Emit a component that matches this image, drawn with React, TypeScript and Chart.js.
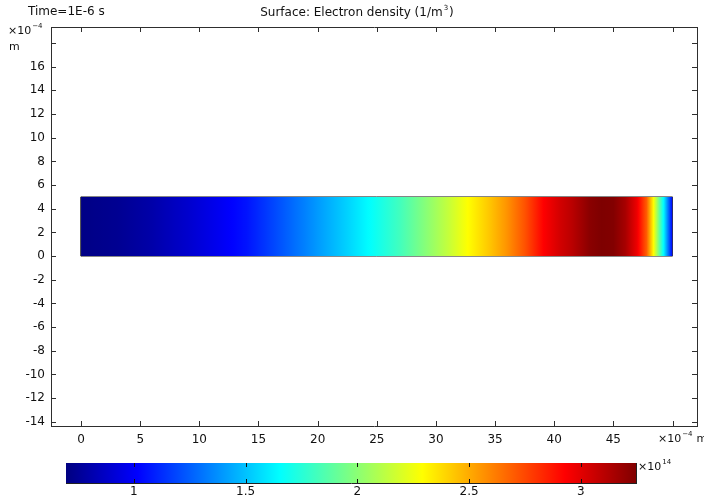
import React, { useEffect, useRef } from 'react';
import { Chart, registerables } from 'chart.js';

Chart.register(...registerables);

const FONT = "'DejaVu Sans', sans-serif";
const TEXT = '#111111';
const AXIS = '#2e2e2e';

// ---- texts ----
const timeLabel = 'Time=1E-6 s';
const titleBase = 'Surface: Electron density (1/m';
const titleSup = '3';
const titleEnd = ')';
const lengthUnitBase = '×10';
const lengthUnitSup = '−4';
const lengthUnit = 'm';
const densityUnitBase = '×10';
const densityUnitSup = '14';

// ---- axes ----
const xTicks = [0, 5, 10, 15, 20, 25, 30, 35, 40, 45, 50];
const yTicks = [-14, -12, -10, -8, -6, -4, -2, 0, 2, 4, 6, 8, 10, 12, 14, 16, 18];
const xRange = [-2.54, 52.07];
const yRange = [-14.35, 19.35];

// ---- geometry (×1e-4 m) ----
const rectX = [0, 50, 50, 0, 0];
const rectY = [0, 0, 5, 5, 0];
const rectTop = 5;

// ---- electron density along x (×1e14 1/m^3) ----
const positionX = [0, 3, 6, 9, 12, 14, 17, 20, 22.5, 24.5, 27, 29, 31, 32.7, 34.5, 36, 37.5, 39.1, 40.5, 41.5, 43, 44, 45, 46, 47, 47.8, 48.4, 48.9, 49.3, 49.7, 50];
const electronDensity = [0.71, 0.74, 0.8, 0.89, 0.99, 1.06, 1.23, 1.4, 1.54, 1.66, 1.82, 1.98, 2.14, 2.29, 2.43, 2.56, 2.72, 2.93, 3.04, 3.1, 3.22, 3.25, 3.24, 3.15, 2.97, 2.7, 2.29, 1.9, 1.6, 1.25, 1.0];

// ---- colour bar ----
const colorTicks = [1, 1.5, 2, 2.5, 3];
const colorRange = [0.696, 3.247];

function jet(t: number): string {
  const c = (v: number) => Math.max(0, Math.min(1, v));
  const r = c(1.5 - Math.abs(4 * t - 3));
  const g = c(1.5 - Math.abs(4 * t - 2));
  const b = c(1.5 - Math.abs(4 * t - 1));
  return `rgb(${Math.round(r * 255)},${Math.round(g * 255)},${Math.round(b * 255)})`;
}
const norm = (v: number) => (v - colorRange[0]) / (colorRange[1] - colorRange[0]);

function drawSup(ctx: CanvasRenderingContext2D, x: number, y: number, base: string, sup: string, size: number, supSize: number, measureOnly = false): number {
  ctx.font = `${size}px ${FONT}`;
  const w = ctx.measureText(base).width;
  if (!measureOnly) {
    ctx.textBaseline = 'middle';
    ctx.textAlign = 'left';
    ctx.fillText(base, x, y);
  }
  ctx.font = `${supSize}px ${FONT}`;
  const w2 = ctx.measureText(sup).width;
  if (!measureOnly) ctx.fillText(sup, x + w + 1, y - size * 0.42);
  return w + 1 + w2;
}

// inward tick marks drawn through each scale
function inwardTicks(len: number, color: string) {
  return {
    id: 'inwardTicks',
    afterDatasetsDraw(chart: any) {
      const ctx: CanvasRenderingContext2D = chart.ctx;
      const a = chart.chartArea;
      ctx.save();
      ctx.strokeStyle = color;
      ctx.lineWidth = 1;
      ctx.beginPath();
      Object.values(chart.scales).forEach((s: any) => {
        if (s.options.grid.display === false) return;
        s.ticks.forEach((t: any) => {
          const p = Math.round(s.getPixelForValue(t.value)) + 0.5;
          if (s.position === 'bottom') { ctx.moveTo(p, a.bottom); ctx.lineTo(p, a.bottom - len); }
          else if (s.position === 'top') { ctx.moveTo(p, a.top); ctx.lineTo(p, a.top + len); }
          else if (s.position === 'left') { ctx.moveTo(a.left, p); ctx.lineTo(a.left + len, p); }
          else if (s.position === 'right') { ctx.moveTo(a.right, p); ctx.lineTo(a.right - len, p); }
        });
      });
      ctx.stroke();
      ctx.restore();
    },
  };
}

const mainTexts = {
  id: 'mainTexts',
  afterDraw(chart: any) {
    const ctx: CanvasRenderingContext2D = chart.ctx;
    ctx.save();
    ctx.fillStyle = TEXT;
    ctx.textBaseline = 'middle';
    ctx.textAlign = 'left';
    ctx.font = `12px ${FONT}`;
    ctx.fillText(timeLabel, 28, 12);
    const w1 = drawSup(ctx, 0, 0, titleBase, titleSup, 12, 7, true);
    ctx.font = `12px ${FONT}`;
    const w3 = ctx.measureText(titleEnd).width;
    const total = w1 + 1 + w3;
    const sx = 357 - total / 2;
    const used = drawSup(ctx, sx, 13, titleBase, titleSup, 12, 7);
    ctx.font = `12px ${FONT}`;
    ctx.fillText(titleEnd, sx + used + 1, 13);
    drawSup(ctx, 8, 31, lengthUnitBase, lengthUnitSup, 11, 7);
    ctx.font = `11px ${FONT}`;
    ctx.fillText(lengthUnit, 9, 47);
    const wx = drawSup(ctx, 658, 439, lengthUnitBase, lengthUnitSup, 11, 7);
    ctx.font = `11px ${FONT}`;
    ctx.fillText(lengthUnit, 658 + wx + 4, 439);
    ctx.restore();
  },
};

const barTexts = {
  id: 'barTexts',
  afterDraw(chart: any) {
    const ctx: CanvasRenderingContext2D = chart.ctx;
    ctx.save();
    ctx.fillStyle = TEXT;
    drawSup(ctx, 638, 22, densityUnitBase, densityUnitSup, 11, 7);
    ctx.restore();
  },
};

const tickFont = { family: FONT, size: 12 };

export default function App() {
  const mainRef = useRef<HTMLCanvasElement>(null);
  const barRef = useRef<HTMLCanvasElement>(null);

  useEffect(() => {
    const densityGradient = (c: any) => {
      const chart = c.chart;
      if (!chart.chartArea) return 'rgba(0,0,0,0)';
      const xs = chart.scales.x;
      const p0 = xs.getPixelForValue(positionX[0]);
      const p1 = xs.getPixelForValue(positionX[positionX.length - 1]);
      const g = chart.ctx.createLinearGradient(p0, 0, p1, 0);
      const span = positionX[positionX.length - 1] - positionX[0];
      for (let i = 0; i < positionX.length; i++) {
        if (i < positionX.length - 1) {
          const sub = 8;
          for (let k = 0; k < sub; k++) {
            const f = k / sub;
            const xv = positionX[i] + (positionX[i + 1] - positionX[i]) * f;
            const vv = electronDensity[i] + (electronDensity[i + 1] - electronDensity[i]) * f;
            g.addColorStop((xv - positionX[0]) / span, jet(norm(vv)));
          }
        } else {
          g.addColorStop(1, jet(norm(electronDensity[i])));
        }
      }
      return g;
    };

    const scaleCommon = {
      type: 'linear' as const,
      grid: { drawOnChartArea: false, drawTicks: false, color: AXIS },
      border: { color: AXIS, width: 1 },
    };

    const main = new Chart(mainRef.current!, {
      type: 'scatter',
      data: {
        datasets: [
          {
            data: [{ x: rectX[0], y: rectTop }, { x: rectX[1], y: rectTop }],
            showLine: true,
            borderWidth: 0,
            pointRadius: 0,
            fill: { value: 0 },
            backgroundColor: densityGradient,
          } as any,
          {
            data: rectX.map((x, i) => ({ x, y: rectY[i] })),
            showLine: true,
            borderColor: '#3a3a3a',
            borderWidth: 1,
            pointRadius: 0,
            fill: false,
          },
        ],
      },
      options: {
        animation: false,
        responsive: false,
        maintainAspectRatio: false,
        layout: { padding: { top: 27, right: 7, left: 0, bottom: 0 } },
        plugins: { legend: { display: false }, tooltip: { enabled: false }, title: { display: false } },
        scales: {
          x: {
            ...scaleCommon,
            position: 'bottom',
            min: xRange[0],
            max: xRange[1],
            afterBuildTicks: (s: any) => { s.ticks = xTicks.map((v) => ({ value: v })); },
            afterFit: (s: any) => { s.height = 19; },
            ticks: { font: tickFont, color: TEXT, padding: 7, maxRotation: 0, autoSkip: false, callback: (v: any) => (v === 50 ? '' : String(v)) },
          },
          x2: {
            ...scaleCommon,
            position: 'top',
            min: xRange[0],
            max: xRange[1],
            afterBuildTicks: (s: any) => { s.ticks = xTicks.map((v) => ({ value: v })); },
            afterFit: (s: any) => { s.height = 0; },
            ticks: { display: false },
          },
          y: {
            ...scaleCommon,
            position: 'left',
            min: yRange[0],
            max: yRange[1],
            afterBuildTicks: (s: any) => { s.ticks = yTicks.map((v) => ({ value: v })); },
            afterFit: (s: any) => { s.width = 51; },
            ticks: { font: tickFont, color: TEXT, padding: 6, autoSkip: false, callback: (v: any) => (v === 18 ? '' : String(v)) },
          },
          y2: {
            ...scaleCommon,
            position: 'right',
            min: yRange[0],
            max: yRange[1],
            afterBuildTicks: (s: any) => { s.ticks = yTicks.map((v) => ({ value: v })); },
            afterFit: (s: any) => { s.width = 0; },
            ticks: { display: false },
          },
        } as any,
      },
      plugins: [inwardTicks(5, AXIS), mainTexts],
    });

    const barGradient = (c: any) => {
      const chart = c.chart;
      if (!chart.chartArea) return 'rgba(0,0,0,0)';
      const xs = chart.scales.x;
      const g = chart.ctx.createLinearGradient(xs.getPixelForValue(colorRange[0]), 0, xs.getPixelForValue(colorRange[1]), 0);
      [0, 0.125, 0.375, 0.625, 0.875, 1].forEach((t) => g.addColorStop(t, jet(t)));
      return g;
    };

    const barScale = {
      type: 'linear' as const,
      grid: { drawOnChartArea: false, drawTicks: false, color: '#111' },
      border: { color: '#222', width: 1 },
    };

    const bar = new Chart(barRef.current!, {
      type: 'scatter',
      data: {
        datasets: [
          {
            data: [{ x: colorRange[0], y: 1 }, { x: colorRange[1], y: 1 }],
            showLine: true,
            borderWidth: 0,
            pointRadius: 0,
            fill: { value: 0 },
            backgroundColor: barGradient,
          } as any,
        ],
      },
      options: {
        animation: false,
        responsive: false,
        maintainAspectRatio: false,
        layout: { padding: { top: 18, right: 68, left: 66, bottom: 0 } },
        plugins: { legend: { display: false }, tooltip: { enabled: false } },
        scales: {
          x: {
            ...barScale,
            position: 'bottom',
            min: colorRange[0],
            max: colorRange[1],
            afterBuildTicks: (s: any) => { s.ticks = colorTicks.map((v) => ({ value: v })); },
            afterFit: (s: any) => { s.height = 16; },
            ticks: { font: tickFont, color: TEXT, padding: 2, maxRotation: 0, autoSkip: false, callback: (v: any) => String(v) },
          },
          x2: {
            ...barScale,
            position: 'top',
            min: colorRange[0],
            max: colorRange[1],
            afterBuildTicks: (s: any) => { s.ticks = colorTicks.map((v) => ({ value: v })); },
            afterFit: (s: any) => { s.height = 0; },
            ticks: { display: false },
          },
          y: {
            ...barScale,
            position: 'left',
            min: 0,
            max: 1,
            grid: { display: false },
            afterFit: (s: any) => { s.width = 0; },
            ticks: { display: false },
          },
          y2: {
            ...barScale,
            position: 'right',
            min: 0,
            max: 1,
            grid: { display: false },
            afterFit: (s: any) => { s.width = 0; },
            ticks: { display: false },
          },
        } as any,
      },
      plugins: [inwardTicks(4, '#111'), barTexts],
    });

    return () => {
      main.destroy();
      bar.destroy();
    };
  }, []);

  return (
    <div style={{ position: 'absolute', left: 0, top: 0, width: 704, height: 499, background: '#fff' }}>
      <canvas ref={mainRef} width={704} height={445} style={{ position: 'absolute', left: 0, top: 0, display: 'block' }} />
      <canvas ref={barRef} width={704} height={54} style={{ position: 'absolute', left: 0, top: 445, display: 'block' }} />
    </div>
  );
}
